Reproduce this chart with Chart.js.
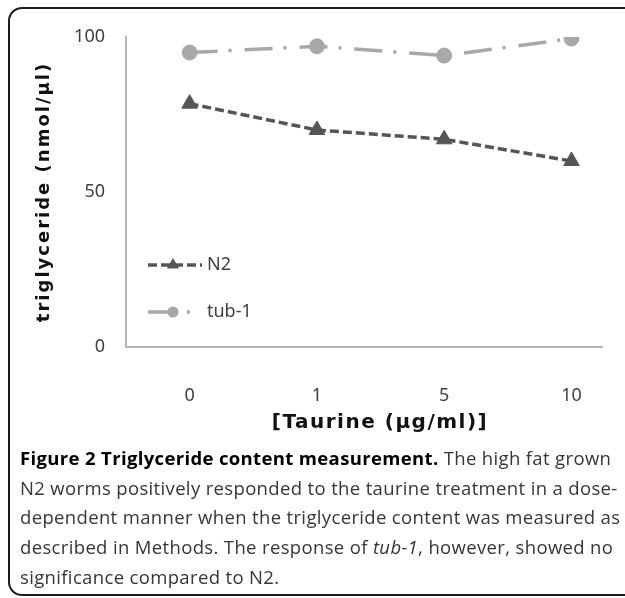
<!DOCTYPE html>
<html>
<head>
<meta charset="utf-8">
<title>Triglyceride content measurement</title>
<script src="https://cdn.jsdelivr.net/npm/chart.js@4.4.1/dist/chart.umd.min.js"></script>
<style>
  html, body { margin: 0; padding: 0; background: #fff; overflow: hidden; }
  body { width: 625px; height: 598px; position: relative; }
  #frame {
    position: absolute; left: 8px; top: 7px; width: 700px; height: 585px;
    border: 2px solid #1c1c1c; border-radius: 14px;
  }
  #plot { position: absolute; left: 0; top: 0; width: 625px; height: 445px; }
  #caption {
    position: absolute; left: 20px; top: 443px; white-space: nowrap;
    font-family: "Open Sans", sans-serif; font-size: 18.5px; letter-spacing: 0.35px;
    line-height: 29.7px; color: #363636;
  }
  #caption b { color: #000; }
</style>
</head>
<body>
<div id="frame"></div>
<div id="plot"><canvas id="trigChart" width="625" height="445"></canvas></div>
<div id="caption"><b>Figure 2 Triglyceride content measurement.</b> The high fat grown<br>N2 worms positively responded to the taurine treatment in a dose-<br>dependent manner when the triglyceride content was measured as<br>described in Methods. The response of <i>tub-1</i>, however, showed no<br>significance compared to N2.</div>
<script>
// taurine doses (category labels on the x axis)
const doses = ['0', '1', '5', '10'];
// triglyceride (nmol/µl)
const n2Values = [78.5, 70, 67, 60];
const tub1Values = [95, 97, 94, 99.5];
const yTicks = [0, 50, 100];

Chart.defaults.font.family = '"Noto Sans", sans-serif';
Chart.defaults.color = '#404040';

const toPoints = vals => vals.map((v, i) => ({ x: i, y: v }));

// legend drawn inside the plot, line sample + marker like the original
const sideLegend = {
  id: 'sideLegend',
  afterDatasetsDraw(chart) {
    const { ctx, chartArea } = chart;
    chart.data.datasets.forEach((ds, i) => {
      const y = chartArea.top + 228 + i * 47;
      const x = chartArea.left + 22;
      ctx.save();
      ctx.strokeStyle = ds.borderColor;
      ctx.lineWidth = ds.borderWidth;
      ctx.setLineDash(ds.borderDash);
      ctx.beginPath();
      ctx.moveTo(x, y);
      ctx.lineTo(x + 54, y);
      ctx.stroke();
      ctx.setLineDash([]);
      ctx.fillStyle = ds.pointBackgroundColor;
      const r = ds.pointRadius - 2;
      const mx = x + 25;
      ctx.beginPath();
      if (ds.pointStyle === 'triangle') {
        ctx.moveTo(mx, y - r);
        ctx.lineTo(mx + r * 0.866, y + r / 2);
        ctx.lineTo(mx - r * 0.866, y + r / 2);
        ctx.closePath();
      } else {
        ctx.arc(mx, y, r, 0, Math.PI * 2);
      }
      ctx.fill();
      ctx.fillStyle = '#404040';
      ctx.font = '18px "Noto Sans", sans-serif';
      ctx.textBaseline = 'middle';
      ctx.fillText(ds.label, x + 59, y);
      ctx.restore();
    });
  }
};

// the axis titles in the figure are letter-spaced; x title sits a bit right of centre
const titleSpacing = {
  id: 'titleSpacing',
  beforeDraw(chart) {
    ['x', 'y'].forEach(id => {
      const scale = chart.scales[id];
      if (scale._spaced) return;
      const draw = scale.drawTitle;
      scale.drawTitle = function () {
        this.ctx.save();
        this.ctx.letterSpacing = id === 'x' ? '1.5px' : '2px';
        if (id === 'x') this.ctx.translate(16, 0);
        draw.call(this);
        this.ctx.restore();
      };
      scale._spaced = true;
    });
  }
};

new Chart(document.getElementById('trigChart'), {
  type: 'line',
  data: {
    datasets: [{
      label: 'N2',
      data: toPoints(n2Values),
      borderColor: '#555555',
      borderWidth: 3.5,
      borderDash: [9, 4],
      pointStyle: 'triangle',
      pointRadius: 9,
      pointBackgroundColor: '#555555',
      pointBorderColor: '#555555',
      pointBorderWidth: 1
    }, {
      label: 'tub-1',
      data: toPoints(tub1Values),
      borderColor: '#a8a8a8',
      borderWidth: 3.5,
      borderDash: [28, 11, 3, 13],
      pointStyle: 'circle',
      pointRadius: 7.5,
      pointBackgroundColor: '#a8a8a8',
      pointBorderColor: '#a8a8a8',
      pointBorderWidth: 1
    }]
  },
  options: {
    responsive: false,
    animation: false,
    layout: { padding: { top: 37, right: 23, left: 0, bottom: 0 } },
    plugins: { legend: { display: false }, tooltip: { enabled: false } },
    scales: {
      x: {
        type: 'linear',
        min: -0.5,
        max: 3.24,
        afterBuildTicks: scale => { scale.ticks = doses.map((d, i) => ({ value: i })); },
        afterFit: scale => { scale.height = 98; },
        ticks: {
          callback: v => doses[v],
          padding: 30,
          font: { size: 18 },
          color: '#404040'
        },
        grid: { display: false },
        border: { color: '#b4b4b4', width: 2 },
        title: {
          display: true,
          text: '[Taurine (µg/ml)]',
          color: '#111',
          font: { family: '"DejaVu Sans", sans-serif', size: 20, weight: 'bold' },
          padding: { top: 0, bottom: 10 }
        }
      },
      y: {
        min: 0,
        max: 100,
        afterBuildTicks: scale => { scale.ticks = yTicks.map(v => ({ value: v })); },
        afterFit: scale => { scale.width = 126; },
        ticks: { padding: 13, font: { size: 18 }, color: '#404040' },
        grid: { display: false },
        border: { color: '#b4b4b4', width: 2 },
        title: {
          display: true,
          text: 'triglyceride (nmol/µl)',
          color: '#111',
          font: { family: '"DejaVu Sans", sans-serif', size: 18, weight: 'bold' },
          padding: { top: 34, bottom: 0 }
        }
      }
    }
  },
  plugins: [sideLegend, titleSpacing]
});
</script>
</body>
</html>
